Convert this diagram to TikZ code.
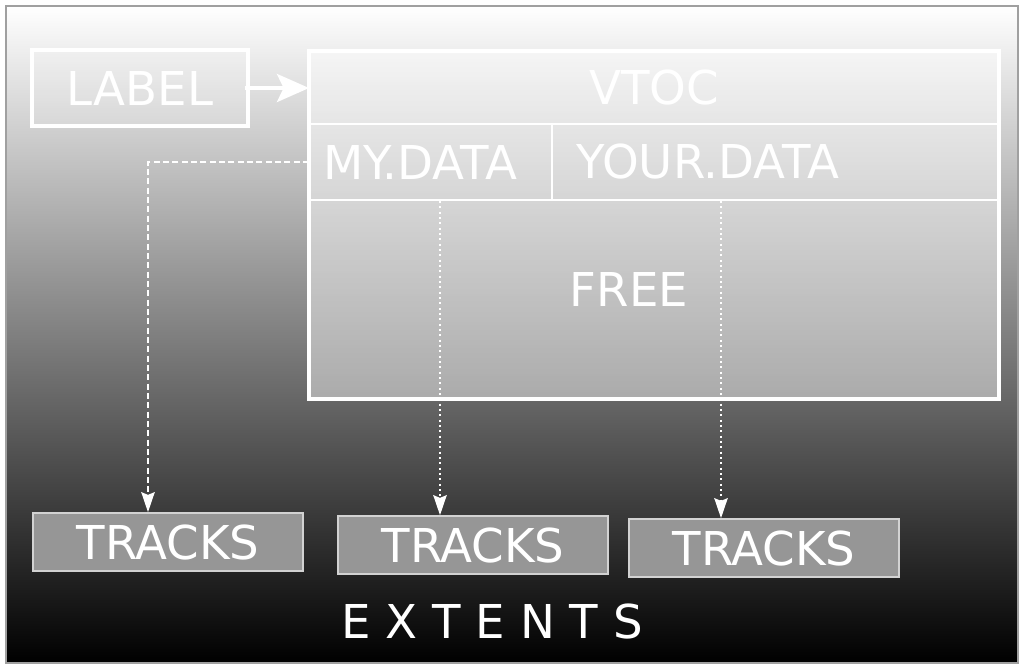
\documentclass[tikz,border=0pt]{standalone}
\usepackage{fontspec}
\setmainfont{DejaVu Sans}
\usetikzlibrary{arrows.meta,positioning,fit}
\definecolor{trackgray}{HTML}{969696}
\definecolor{trackedge}{HTML}{D2D2D2}
\definecolor{rimgray}{HTML}{A0A0A0}
\tikzset{
  bigtext/.style={text=white, font=\fontsize{35}{42}\selectfont},
  celltext/.style={text=white, font=\fontsize{35}{42}\selectfont, inner sep=0pt},
  labelbox/.style={rectangle, draw=white, line width=3pt, fill=white, fill opacity=0.15, text opacity=1, minimum width=162pt, minimum height=57pt, bigtext},
  cell/.style={rectangle, draw=white, line width=1.5pt, fill=white, fill opacity=0.45, text opacity=1, inner sep=0pt},
  frame/.style={rectangle, draw=white, line width=3pt, inner sep=0pt},
  trackbox/.style={rectangle, draw=trackedge, line width=1.2pt, fill=trackgray, minimum width=202.5pt, minimum height=43.5pt, bigtext},
  arrow/.style={-{Stealth[length=24pt, width=21pt, inset=5pt]}, white, line width=3pt},
  dashedarrow/.style={-{Stealth[length=15pt, width=10pt, inset=2pt]}, white, line width=1.6pt, dash pattern=on 4.5pt off 2.5pt},
  dottedarrow/.style={-{Stealth[length=15pt, width=10pt, inset=2pt]}, white, line width=1.6pt, dash pattern=on 1.5pt off 2.5pt}
}
\begin{document}
\begin{tikzpicture}[x=0.75pt, y=-0.75pt]
  \useasboundingbox (0,0) rectangle (1024,669);
  \shadedraw[top color=white, bottom color=black, draw=rimgray, line width=0.8pt] (6,6) rectangle (1018,663);

  % label and vtoc
  \node[labelbox] (lbl) at (140,88) {LABEL};
  \node[cell, bigtext, minimum width=516pt, minimum height=54pt] (vtoc) at (654,88) {VTOC};
  \node[cell, minimum width=181.5pt, minimum height=57pt] (mydata) at (431,162) {};
  \node[cell, minimum width=334.5pt, minimum height=57pt] (yourdata) at (775,162) {};
  \node[cell, minimum width=516pt, minimum height=148.5pt] (free) at (654,299) {};
  \node[frame, fit=(vtoc)(free)] (vtocframe) {};
  \node[celltext, anchor=west] (mytxt) at (323,162) {MY.DATA};
  \node[celltext, anchor=west] (yourtxt) at (576,162) {YOUR.DATA};
  \node[celltext] (freetxt) at (629,289) {FREE};

  % extents
  \node[trackbox] (tracksA) at (168,542) {TRACKS};
  \node[trackbox] (tracksB) at (473,545) {TRACKS};
  \node[trackbox] (tracksC) at (764,548) {TRACKS};
  \node[bigtext] (extents) at (492,621) {E X T E N T S};

  \draw[arrow] ([xshift=-4pt]lbl.east) -- (vtoc.west);
  \draw[dashedarrow] (mydata.west) -| ([xshift=-15pt]tracksA.north);
  \draw[dottedarrow] ([xshift=6.75pt]mydata.south) -- ([xshift=-24.75pt]tracksB.north);
  \draw[dottedarrow] ([xshift=-40.5pt]yourdata.south) -- ([xshift=-32.25pt]tracksC.north);
\end{tikzpicture}
\end{document}
